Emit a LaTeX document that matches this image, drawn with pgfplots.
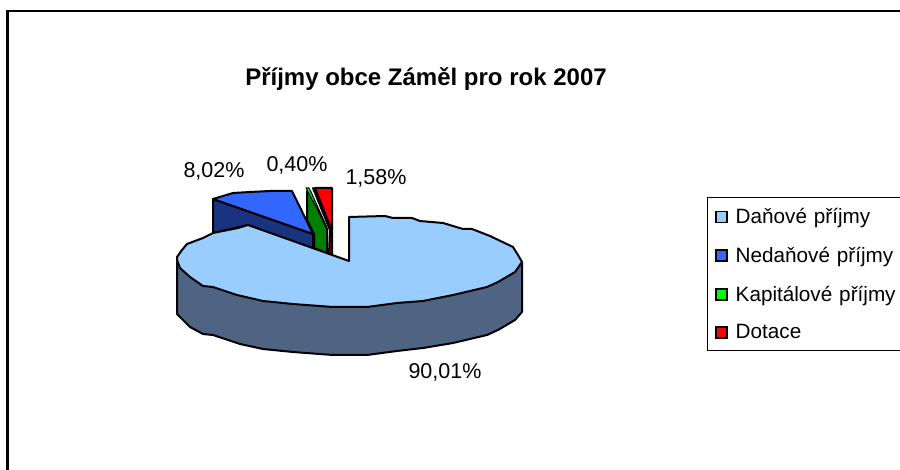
\documentclass[border=0pt]{standalone}
\usepackage{fontspec}
\setmainfont{Liberation Sans}
\usepackage{pgfplots}
\pgfplotsset{compat=1.18}
\definecolor{danT}{HTML}{99CCFF}
\definecolor{danS}{HTML}{4F6483}
\definecolor{nedT}{HTML}{3366FF}
\definecolor{nedS}{HTML}{1A3380}
\definecolor{kapT}{HTML}{00FF00}
\definecolor{kapS}{HTML}{008000}
\definecolor{dotT}{HTML}{FF0000}
\definecolor{dotS}{HTML}{800000}
\pgfplotsset{slice/.style={forget plot, draw=black, line width=2pt, line join=round}}
\begin{document}
\begin{tikzpicture}
\begin{axis}[
  at={(0,0)}, anchor=south west,
  scale only axis, width=900pt, height=470pt,
  xmin=0, xmax=900, ymin=0, ymax=470,
  y dir=reverse,
  hide axis,
  legend style={at={(axis cs:707,197.5)}, anchor=north west, draw=black, line width=1pt,
    font=\fontsize{20.7}{24}\selectfont, row sep=18pt, inner xsep=7.5pt, inner ysep=8.5pt,
    cells={anchor=west, text width=172pt},
    /tikz/every odd column/.append style={column sep=6pt}},
  legend image code/.code={\draw[#1, line width=1.7pt] (0pt,-5.5pt) rectangle (11pt,5.5pt);},
  legend cell align=left,
]
% frame of the chart area, runs off the right and bottom of the page
\addplot[forget plot, draw=black, line width=2.5pt] coordinates {(7.5,490) (7.5,11) (920,11)};

% Nedanove prijmy, side then top
\addplot[slice, fill=nedS] coordinates {(213,199) (313,234) (313,250) (248,225) (213,233)} -- cycle;
\addplot[slice, fill=nedT] coordinates {(213,199) (233,193) (250,192) (270,191) (292,191) (313,234)} -- cycle;

% Kapitalove prijmy
\addplot[slice, fill=kapS] coordinates {(307,191) (307,220) (314,234) (314,248) (327,253) (327,229) (310,191)} -- cycle;
\addplot[slice, line width=1pt, fill=kapT] coordinates {(306,188) (309,188) (327,228)} -- cycle;

% Dotace
\addplot[slice, fill=dotS] coordinates {(313,188) (330,230) (329,254) (332,255) (332,232)} -- cycle;
\addplot[slice, fill=dotT] coordinates {(315,188) (332,188) (332,231)} -- cycle;

% Danove prijmy, side then top
\addplot[slice, fill=danS] coordinates {
  (177,262) (177,314) (190,327) (203,334) (213,335) (240,344) (263,349) (293,352)
  (333,355) (367,355) (397,351) (423,348) (453,343) (487,335) (498,330) (515,320)
  (522,312) (522,262)} -- cycle;
\addplot[slice, fill=danT] coordinates {
  (349,261) (349,217) (385,216) (393,218) (412,218) (420,221) (443,223) (463,229)
  (472,229) (490,236) (513,247) (518,255) (522,262) (515,272) (498,282) (487,287)
  (453,295) (423,301) (397,303) (367,307) (333,307) (293,304) (263,301) (237,295)
  (213,287) (203,286) (190,277) (180,268) (177,260) (177,257) (182,250) (187,244)
  (203,238) (213,233) (238,228) (248,225)} -- cycle;

\addlegendimage{fill=danT, draw=black}
\addlegendentry{Daňové příjmy}
\addlegendimage{fill=nedT, draw=black}
\addlegendentry{Nedaňové příjmy}
\addlegendimage{fill=kapT, draw=black}
\addlegendentry{Kapitálové příjmy}
\addlegendimage{fill=dotT, draw=black}
\addlegendentry{Dotace}

\node[font=\fontsize{24}{28}\selectfont\bfseries] at (axis cs:426,79) {Příjmy obce Záměl pro rok 2007};
\node[font=\fontsize{21.5}{24}\selectfont] at (axis cs:214,171) {8,02\%};
\node[font=\fontsize{21.5}{24}\selectfont] at (axis cs:297,165) {0,40\%};
\node[font=\fontsize{21.5}{24}\selectfont] at (axis cs:376,178) {1,58\%};
\node[font=\fontsize{21.5}{24}\selectfont] at (axis cs:445,372) {90,01\%};
\end{axis}
\pgfresetboundingbox
\path[use as bounding box] (0,0) rectangle (900pt,470pt);
\end{tikzpicture}
\end{document}
